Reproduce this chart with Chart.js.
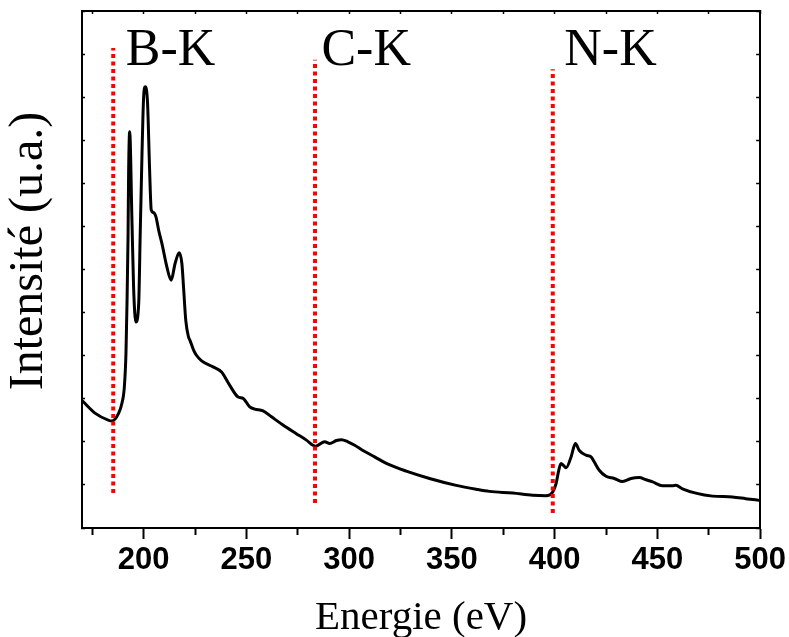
<!DOCTYPE html>
<html>
<head>
<meta charset="utf-8">
<title>Spectre EELS</title>
<script src="https://cdn.jsdelivr.net/npm/chart.js@4.4.1/dist/chart.umd.min.js"></script>
<style>
    html, body { margin: 0; padding: 0; background: #fff; }
    #chart { display: block; }
</style>
</head>
<body>
<canvas id="chart" width="789" height="637"></canvas>
<script>
// Spectrum
const energies = [170, 176.5, 183.0, 184.6, 187.8, 189.4, 190.6, 191.4, 191.9, 192.4, 192.7, 193.2,
    194.3, 195.1, 196.2, 197.6, 198.3, 199.2, 200.0, 200.8, 201.9, 202.9, 203.7, 204.8, 206.0,
    207.3, 208.9, 211.3, 213.4, 215.3, 217.3, 218.6, 219.4, 220.5, 221.8, 222.5, 224.3, 225.7,
    228.2, 233.8, 237.9, 241.9, 246.0, 248.4, 251.6, 254.1, 258.1, 262.2, 267.8, 274.3, 279.2,
    282.4, 283.7, 286.5, 288.1, 290.5, 293.8, 296.2, 299.4, 302.7, 306.7, 312.4, 318.1, 327.8,
    339.1, 352.1, 361.8, 368.3, 379.6, 389.3, 395.8, 399.1, 400.7, 402.0, 403.1, 405.6, 408.0,
    410.1, 412.0, 415.3, 417.7, 419.3, 421.7, 425.0, 429.0, 433.1, 437.2, 441.2, 444.4, 447.7,
    452.5, 457.4, 459.0, 462.2, 468.7, 476.8, 486.5, 493.0, 499.5, 500];
const intensities = [2.96, 2.66, 2.50, 2.485, 2.66, 2.89, 3.27, 4.06, 5.22, 6.76, 8.31, 9.20,
    7.15, 5.60, 4.78, 5.22, 6.76, 8.69, 10.01, 10.24, 9.86, 8.31, 7.38, 7.32, 7.22,
    6.91, 6.60, 6.06, 5.75, 6.14, 6.39, 6.14, 5.60, 4.82, 4.44, 4.36, 4.13, 4.01,
    3.88, 3.74, 3.62, 3.31, 3.04, 3.01, 2.81, 2.76, 2.72, 2.58, 2.39, 2.19, 2.04,
    1.92, 1.90, 1.97, 2.00, 1.96, 2.03, 2.05, 2.00, 1.92, 1.80, 1.65, 1.50, 1.32,
    1.15, 0.99, 0.90, 0.85, 0.81, 0.76, 0.75, 0.84, 1.03, 1.34, 1.50, 1.40, 1.65,
    1.96, 1.80, 1.69, 1.65, 1.53, 1.34, 1.20, 1.15, 1.08, 1.15, 1.17, 1.12, 1.07,
    0.98, 0.98, 0.99, 0.91, 0.81, 0.74, 0.72, 0.68, 0.64, 0.63];

// Absorption edges
const edgeNames = ['B-K', 'C-K', 'N-K'];
const edgeEnergies = [185.2, 283.4, 399.1];
const edgeBottoms = [0.81, 0.58, 0.35];
const edgeTops = [11.14, 10.87, 10.65];
const edgeLabelEnergies = [191.3, 286.5, 404.7];
const edgeLabelLevel = 10.74;

// Axes
const xMin = 170, xMax = 500, xStep = 25, xLabelStep = 50;
const yMin = 0, yMax = 12, yStep = 1;
const yTitle = 'Intensité (u.a.)';

const SERIF = '"Liberation Serif", "Times New Roman", serif';
const SANS = '"Liberation Sans", Arial, sans-serif';

const spectrum = energies.map((e, i) => ({ x: e, y: intensities[i] }));

const edgeDatasets = edgeEnergies.map((e, i) => ({
    data: [{ x: e, y: edgeBottoms[i] }, { x: e, y: edgeTops[i] }],
    borderColor: '#ff0000',
    borderWidth: 4,
    borderDash: [4, 3.5],
    pointRadius: 0,
    fill: false
}));

// edge names next to the dotted lines + the y title (sits a bit above the middle)
const textPlugin = {
    id: 'edgeLabels',
    afterDatasetsDraw(chart) {
        const ctx = chart.ctx;
        const xs = chart.scales.x, ys = chart.scales.y;
        ctx.save();
        ctx.fillStyle = '#000';
        ctx.font = '52px ' + SERIF;
        ctx.textAlign = 'left';
        ctx.textBaseline = 'alphabetic';
        edgeNames.forEach((name, i) => {
            ctx.fillText(name, xs.getPixelForValue(edgeLabelEnergies[i]), ys.getPixelForValue(edgeLabelLevel));
        });

        ctx.translate(29, 251);
        ctx.rotate(-Math.PI / 2);
        ctx.font = '48px ' + SERIF;
        ctx.textAlign = 'center';
        ctx.textBaseline = 'middle';
        ctx.fillText(yTitle, 0, 0);
        ctx.restore();
    }
};

new Chart(document.getElementById('chart'), {
    type: 'line',
    data: {
        datasets: edgeDatasets.concat([{
            data: spectrum,
            borderColor: '#000',
            borderWidth: 3,
            pointRadius: 0,
            cubicInterpolationMode: 'monotone',
            fill: false
        }])
    },
    options: {
        responsive: false,
        animation: false,
        layout: { padding: { top: 11, right: 28, left: 0, bottom: 0 } },
        plugins: { legend: { display: false }, tooltip: { enabled: false } },
        scales: {
            x: {
                type: 'linear',
                position: 'bottom',
                min: xMin,
                max: xMax,
                afterFit: s => { s.height = 109; },
                border: { display: true, color: '#000', width: 2 },
                grid: {
                    drawOnChartArea: false,
                    color: '#000',
                    tickLength: 11,
                    tickWidth: 2,
                    tickBorderDash: c => (c.tick && c.tick.value % xLabelStep === 0) ? [] : [6, 50]
                },
                ticks: {
                    stepSize: xStep,
                    includeBounds: false,
                    autoSkip: false,
                    maxRotation: 0,
                    padding: 3,
                    color: '#000',
                    font: { family: SANS, size: 31, weight: 'bold' },
                    callback: v => v % xLabelStep === 0 ? v : ''
                },
                title: {
                    display: true,
                    text: 'Energie (eV)',
                    color: '#000',
                    font: { family: SERIF, size: 41, lineHeight: 1 },
                    padding: { top: 0, bottom: -2 }
                }
            },
            xTop: {
                type: 'linear',
                position: 'top',
                min: xMin,
                max: xMax,
                afterFit: s => { s.height = 0; },
                border: { display: true, color: '#000', width: 2 },
                grid: { drawOnChartArea: false, color: '#000', tickLength: -3, tickWidth: 1.5 },
                ticks: { stepSize: xStep, includeBounds: false, display: false }
            },
            y: {
                type: 'linear',
                position: 'left',
                min: yMin,
                max: yMax,
                afterFit: s => { s.width = 82; },
                border: { display: true, color: '#000', width: 2 },
                grid: { drawOnChartArea: false, color: '#000', tickLength: -3, tickWidth: 1.5 },
                ticks: { stepSize: yStep, display: false }
            },
            yRight: {
                type: 'linear',
                position: 'right',
                min: yMin,
                max: yMax,
                afterFit: s => { s.width = 0; },
                border: { display: true, color: '#000', width: 2 },
                grid: { drawOnChartArea: false, color: '#000', tickLength: -4, tickWidth: 1.5 },
                ticks: { stepSize: yStep, display: false }
            }
        }
    },
    plugins: [textPlugin]
});
</script>
</body>
</html>
